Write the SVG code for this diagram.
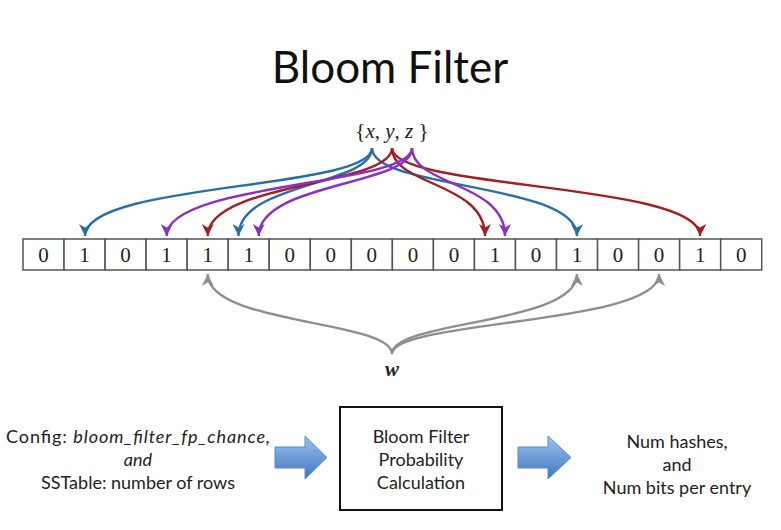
<svg xmlns="http://www.w3.org/2000/svg" width="781" height="530" viewBox="0 0 781 530">
<style>
.cell{fill:#fff;stroke:#555;stroke-width:1.5}
.bit{font-family:"Liberation Serif",serif;font-size:21px;text-anchor:middle;fill:#222}
.lbl{font-family:Lato,"Open Sans",sans-serif;font-size:18px;text-anchor:middle;fill:#222}
.c{fill:none;stroke-width:2.4}
.b{stroke:#2a6ea6}.r{stroke:#a51d1f}.p{stroke:#8b2fc4}.g{stroke:#8e8e8e}
.blk{fill:url(#bg);stroke:#5b8bc6;stroke-width:1}
</style>
<defs>
<linearGradient id="bg" x1="0" y1="0" x2="0" y2="1">
<stop offset="0" stop-color="#9cc3ee"/><stop offset="1" stop-color="#3f76be"/>
</linearGradient>
<marker id="mb" markerUnits="userSpaceOnUse" markerWidth="12" markerHeight="12" refX="10" refY="5" orient="auto" viewBox="0 0 10 10"><path d="M0,0 L10,5 L0,10 L3,5 z" fill="#2a6ea6"/></marker>
<marker id="mr" markerUnits="userSpaceOnUse" markerWidth="12" markerHeight="12" refX="10" refY="5" orient="auto" viewBox="0 0 10 10"><path d="M0,0 L10,5 L0,10 L3,5 z" fill="#a51d1f"/></marker>
<marker id="mp" markerUnits="userSpaceOnUse" markerWidth="12" markerHeight="12" refX="10" refY="5" orient="auto" viewBox="0 0 10 10"><path d="M0,0 L10,5 L0,10 L3,5 z" fill="#8b2fc4"/></marker>
<marker id="mg" markerUnits="userSpaceOnUse" markerWidth="12" markerHeight="12" refX="10" refY="5" orient="auto" viewBox="0 0 10 10"><path d="M0,0 L10,5 L0,10 L3,5 z" fill="#8e8e8e"/></marker>
</defs>
<rect width="781" height="530" fill="#fff"/>

<g id="title"><text x="390" y="83" font-family="Lato,'Open Sans',sans-serif" font-size="44" text-anchor="middle" fill="#111">Bloom Filter</text></g>

<g id="set"><text x="392" y="138" font-family="'Liberation Serif',serif" font-size="21" text-anchor="middle" fill="#222">{<tspan font-style="italic">x</tspan>, <tspan font-style="italic">y</tspan>, <tspan font-style="italic">z</tspan> }</text></g>

<g id="bitarray">
<rect class="cell" x="23" y="239" width="41.04" height="31"/>
<rect class="cell" x="64.04" y="239" width="41.04" height="31"/>
<rect class="cell" x="105.08" y="239" width="41.04" height="31"/>
<rect class="cell" x="146.12" y="239" width="41.04" height="31"/>
<rect class="cell" x="187.16" y="239" width="41.04" height="31"/>
<rect class="cell" x="228.2" y="239" width="41.04" height="31"/>
<rect class="cell" x="269.24" y="239" width="41.04" height="31"/>
<rect class="cell" x="310.28" y="239" width="41.04" height="31"/>
<rect class="cell" x="351.32" y="239" width="41.04" height="31"/>
<rect class="cell" x="392.36" y="239" width="41.04" height="31"/>
<rect class="cell" x="433.4" y="239" width="41.04" height="31"/>
<rect class="cell" x="474.44" y="239" width="41.04" height="31"/>
<rect class="cell" x="515.48" y="239" width="41.04" height="31"/>
<rect class="cell" x="556.52" y="239" width="41.04" height="31"/>
<rect class="cell" x="597.56" y="239" width="41.04" height="31"/>
<rect class="cell" x="638.6" y="239" width="41.04" height="31"/>
<rect class="cell" x="679.64" y="239" width="41.04" height="31"/>
<rect class="cell" x="720.68" y="239" width="41.04" height="31"/>
<text class="bit" x="43.5" y="262">0</text>
<text class="bit" x="84.6" y="262">1</text>
<text class="bit" x="125.6" y="262">0</text>
<text class="bit" x="166.6" y="262">1</text>
<text class="bit" x="207.7" y="262">1</text>
<text class="bit" x="248.7" y="262">1</text>
<text class="bit" x="289.8" y="262">0</text>
<text class="bit" x="330.8" y="262">0</text>
<text class="bit" x="371.8" y="262">0</text>
<text class="bit" x="412.9" y="262">0</text>
<text class="bit" x="453.9" y="262">0</text>
<text class="bit" x="495" y="262">1</text>
<text class="bit" x="536" y="262">0</text>
<text class="bit" x="577" y="262">1</text>
<text class="bit" x="618.1" y="262">0</text>
<text class="bit" x="659.1" y="262">0</text>
<text class="bit" x="700.2" y="262">1</text>
<text class="bit" x="741.2" y="262">0</text>
</g>

<g id="w"><text x="392" y="376" font-family="'Liberation Serif',serif" font-size="21" font-style="italic" font-weight="bold" text-anchor="middle" fill="#222">w</text></g>

<g id="connectors">
<path class="c b" marker-end="url(#mb)" d="M372,148 C372,190 85,182 85,236"/>
<path class="c b" marker-end="url(#mb)" d="M372,148 C372,186 238.5,182 238.5,236"/>
<path class="c b" marker-end="url(#mb)" d="M372,148 C372,190 577,182 577,236"/>
<path class="c r" marker-end="url(#mr)" d="M392,148 C392,186 207.7,182 207.7,236"/>
<path class="c r" marker-end="url(#mr)" d="M392,148 C392,186 485,182 485,236"/>
<path class="c r" marker-end="url(#mr)" d="M392,148 C392,190 700.2,182 700.2,236"/>
<path class="c p" marker-end="url(#mp)" d="M412,148 C412,186 166.6,182 166.6,236"/>
<path class="c p" marker-end="url(#mp)" d="M412,148 C412,186 258.7,182 258.7,236"/>
<path class="c p" marker-end="url(#mp)" d="M412,148 C412,186 505,182 505,236"/>
<path class="c g" marker-end="url(#mg)" d="M392,354 C392,320 207.7,325 207.7,274"/>
<path class="c g" marker-end="url(#mg)" d="M392,354 C392,320 577,325 577,274"/>
<path class="c g" marker-end="url(#mg)" d="M392,354 C392,320 659.1,325 659.1,274"/>
</g>

<g id="config">
<text class="lbl" x="138" y="443" textLength="264" lengthAdjust="spacing">Config: <tspan font-style="italic">bloom_filter_fp_chance,</tspan></text>
<text class="lbl" x="138" y="466" font-style="italic">and</text>
<text class="lbl" x="138" y="489">SSTable: number of rows</text>
</g>

<g id="arrow-in"><path class="blk" d="M275,447 L305,447 L305,436 L327,457.5 L305,479 L305,468 L275,468 Z"/></g>

<g id="calc">
<rect x="340" y="407" width="162" height="103" fill="#fff" stroke="#111" stroke-width="2"/>
<text class="lbl" x="421" y="443">Bloom Filter</text>
<text class="lbl" x="421" y="466">Probability</text>
<text class="lbl" x="421" y="489">Calculation</text>
</g>

<g id="arrow-out"><path class="blk" d="M518,447 L548,447 L548,436 L571,457.5 L548,479 L548,468 L518,468 Z"/></g>

<g id="output">
<text class="lbl" x="677" y="448">Num hashes,</text>
<text class="lbl" x="677" y="471">and</text>
<text class="lbl" x="677" y="494">Num bits per entry</text>
</g>
</svg>
